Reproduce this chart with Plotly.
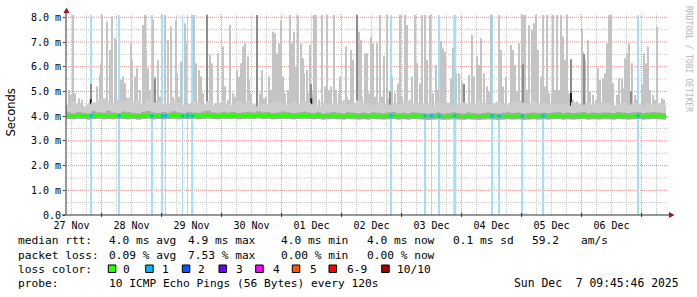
import plotly.graph_objects as go
from datetime import datetime, timedelta

# ---------------- data ----------------
START = datetime(2025, 11, 27, 9, 46)        # left edge of the graph
SPAN_H = 240.8                                # hours shown on the x axis

day_labels = ["27 Nov", "28 Nov", "29 Nov", "30 Nov", "01 Dec",
              "02 Dec", "03 Dec", "04 Dec", "05 Dec", "06 Dec"]
day_label_dates = ["2025-11-27 12:00", "2025-11-28 12:00", "2025-11-29 12:00",
                   "2025-11-30 12:00", "2025-12-01 12:00", "2025-12-02 12:00",
                   "2025-12-03 12:00", "2025-12-04 12:00", "2025-12-05 12:00",
                   "2025-12-06 12:00"]
y_tick_vals = [0, 1, 2, 3, 4, 5, 6, 7, 8]
y_tick_text = ["0.0", "1.0 m", "2.0 m", "3.0 m", "4.0 m", "5.0 m", "6.0 m", "7.0 m", "8.0 m"]

# regular 2-hour sample grid (hours after START)
grid_hours = [2 * i for i in range(121)]

median_ms = [
    4.01, 4.00, 4.02, 4.01, 4.00, 4.02, 4.03, 4.01, 4.00, 4.02, 4.01, 4.03,
    4.02, 4.01, 4.00, 4.02, 4.03, 4.01, 4.02, 4.00, 4.01, 4.03, 4.02, 4.01,
    4.02, 4.03, 4.01, 4.02, 4.04, 4.02, 4.01, 4.03, 4.02, 4.03, 4.01, 4.02,
    4.03, 4.02, 4.04, 4.02, 4.03, 4.01, 4.02, 4.03, 4.02, 4.01, 4.02, 4.03,
    4.02, 4.01, 4.02, 4.00, 4.01, 4.02, 4.01, 4.00, 4.02, 4.01, 4.00, 4.01,
    4.00, 4.02, 4.01, 4.00, 4.01, 4.02, 4.00, 4.01, 4.00, 4.02, 4.01, 4.00,
    3.99, 4.00, 4.01, 3.99, 4.00, 4.01, 4.00, 3.99, 4.01, 4.00, 3.99, 4.00,
    4.01, 4.00, 3.99, 4.00, 4.01, 4.00, 4.01, 3.99, 4.00, 4.01, 4.00, 4.01,
    4.00, 4.01, 4.02, 4.00, 4.01, 4.00, 4.01, 4.02, 4.00, 4.01, 4.00, 4.01,
    4.01, 4.00, 4.02, 4.01, 4.00, 4.01, 4.02, 4.00, 4.01, 4.02, 4.01, 4.00,
    4.01]

smoke_lo_ms = [
    3.88, 3.87, 3.89, 3.88, 3.86, 3.88, 3.89, 3.87, 3.88, 3.87, 3.89, 3.88,
    3.87, 3.88, 3.86, 3.88, 3.89, 3.87, 3.88, 3.87, 3.88, 3.89, 3.87, 3.88,
    3.88, 3.89, 3.87, 3.88, 3.90, 3.88, 3.87, 3.89, 3.88, 3.89, 3.87, 3.88,
    3.89, 3.88, 3.90, 3.88, 3.89, 3.87, 3.88, 3.89, 3.88, 3.87, 3.88, 3.89,
    3.88, 3.87, 3.88, 3.86, 3.87, 3.88, 3.87, 3.86, 3.88, 3.87, 3.86, 3.87,
    3.86, 3.88, 3.87, 3.86, 3.87, 3.88, 3.86, 3.87, 3.86, 3.88, 3.87, 3.86,
    3.85, 3.86, 3.87, 3.85, 3.86, 3.87, 3.86, 3.85, 3.87, 3.86, 3.85, 3.86,
    3.87, 3.86, 3.85, 3.86, 3.87, 3.86, 3.87, 3.85, 3.86, 3.87, 3.86, 3.87,
    3.86, 3.87, 3.88, 3.86, 3.87, 3.86, 3.87, 3.88, 3.86, 3.87, 3.86, 3.87,
    3.87, 3.86, 3.88, 3.87, 3.86, 3.87, 3.88, 3.86, 3.87, 3.88, 3.87, 3.86,
    3.87]

smoke_mid_ms = [
    4.16, 4.12, 4.18, 4.14, 4.12, 4.20, 4.16, 4.14, 4.22, 4.15, 4.13, 4.19,
    4.17, 4.14, 4.12, 4.18, 4.21, 4.15, 4.13, 4.17, 4.14, 4.20, 4.16, 4.13,
    4.18, 4.15, 4.14, 4.19, 4.22, 4.16, 4.14, 4.18, 4.15, 4.17, 4.13, 4.16,
    4.18, 4.15, 4.20, 4.16, 4.17, 4.13, 4.15, 4.19, 4.16, 4.13, 4.15, 4.18,
    4.15, 4.13, 4.16, 4.12, 4.14, 4.17, 4.14, 4.12, 4.16, 4.14, 4.12, 4.15,
    4.12, 4.16, 4.14, 4.12, 4.15, 4.17, 4.12, 4.14, 4.12, 4.16, 4.14, 4.12,
    4.11, 4.13, 4.15, 4.11, 4.13, 4.16, 4.13, 4.11, 4.15, 4.13, 4.11, 4.13,
    4.15, 4.13, 4.11, 4.14, 4.16, 4.13, 4.15, 4.11, 4.13, 4.15, 4.13, 4.15,
    4.13, 4.15, 4.17, 4.13, 4.15, 4.13, 4.15, 4.17, 4.13, 4.15, 4.13, 4.15,
    4.15, 4.13, 4.17, 4.15, 4.13, 4.15, 4.17, 4.13, 4.15, 4.17, 4.15, 4.13,
    4.14]

smoke_hi_ms = [
    4.45, 4.60, 4.52, 4.40, 4.48, 4.56, 4.65, 4.72, 4.60, 4.54, 4.68, 4.62,
    4.75, 4.58, 4.64, 4.50, 4.70, 4.56, 4.60, 4.48, 4.52, 4.66, 4.54, 4.46,
    4.50, 4.62, 4.56, 4.48, 4.60, 4.42, 4.54, 4.64, 4.50, 4.45, 4.58, 4.52,
    4.60, 4.48, 4.40, 4.52, 4.46, 4.56, 4.62, 4.50, 4.44, 4.58, 4.52, 4.60,
    4.54, 4.48, 4.42, 4.56, 4.50, 4.45, 4.52, 4.60, 4.48, 4.54, 4.64, 4.56,
    4.50, 4.44, 4.58, 4.52, 4.46, 4.54, 4.48, 4.56, 4.62, 4.50, 4.45, 4.52,
    4.48, 4.40, 4.52, 4.46, 4.54, 4.42, 4.50, 4.56, 4.48, 4.52, 4.60, 4.54,
    4.46, 4.52, 4.58, 4.50, 4.44, 4.56, 4.62, 4.54, 4.48, 4.60, 4.52, 4.56,
    4.50, 4.45, 4.52, 4.48, 4.42, 4.56, 4.50, 4.46, 4.54, 4.48, 4.52, 4.58,
    4.50, 4.44, 4.48, 4.54, 4.46, 4.52, 4.48, 4.42, 4.50, 4.46, 4.52, 4.45,
    4.45]

# light-grey smoke spikes: hour after START, top value (ms)
spike_hour = [
    1.1, 2.1, 2.8, 3.6, 5.2, 6.5, 12.5, 13.5, 13.9, 14.4, 15.2, 16.3, 17.5, 18.3,
    19.5, 20.0, 22.1, 22.9, 23.6, 25.9, 26.5, 27.6, 28.3, 29.6, 30.8, 31.5, 32.0,
    32.8, 33.5, 34.9, 35.7, 36.9, 37.6, 39.5, 40.8, 41.9, 42.8, 43.9, 44.5, 45.2,
    45.9, 47.5, 48.1,
    51.3, 52.0, 53.3, 54.0, 54.7, 57.6, 58.4, 59.7, 60.7, 62.7, 63.7, 64.7, 65.7,
    66.7, 67.7, 68.3, 69.3, 70.0, 70.9, 71.7, 72.7, 73.3, 74.0, 77.6, 78.3, 79.1,
    80.0, 81.1, 82.0, 82.9, 83.6, 84.3, 85.1, 86.0, 86.7, 87.7, 88.7, 89.6, 90.4,
    91.3, 92.0, 92.9, 94.0, 94.7, 95.3, 96.3, 96.9,
    97.5, 98.4, 99.1, 100.1, 101.2, 102.4, 103.5, 104.3, 105.1, 105.9, 107.2,
    108.0, 109.1, 109.7, 111.1, 111.9, 112.5, 113.2, 113.9, 114.8, 117.1, 117.9,
    118.5, 119.5, 120.3, 121.1, 122.1, 122.9, 123.7, 124.5, 125.5, 126.4, 127.2,
    128.3, 129.2, 130.5, 131.7, 132.8, 133.6, 134.5, 135.7, 136.5, 137.5, 138.4,
    139.5, 140.3, 141.5, 142.4, 143.5, 144.5, 145.5,
    146.9, 147.9, 148.8, 149.9, 150.7, 151.5, 152.9, 153.9, 154.7, 155.9, 157.3,
    158.3, 159.3, 160.3, 161.3, 162.4, 163.3, 164.3, 165.2, 166.1, 167.2, 168.3,
    169.3, 170.0, 171.6, 173.3, 174.0, 174.9, 176.0, 177.1, 178.0, 178.9, 179.6,
    180.5, 181.3, 182.3, 182.9, 183.6, 184.3, 185.3, 186.3, 187.3, 188.0, 188.7,
    189.9, 190.7, 191.6, 192.3, 193.3, 194.3,
    194.9, 195.6, 196.5, 197.3, 197.9, 198.9, 199.6, 200.3, 201.3, 202.9, 204.3,
    206.3, 206.9, 207.6, 208.7, 209.6, 210.7, 211.9, 212.9, 213.6, 214.7, 215.6,
    216.5, 217.3, 218.0, 218.9, 220.3, 221.3, 222.3, 222.9, 223.6, 224.5, 225.3,
    226.3, 227.6, 228.5, 230.3, 231.2, 232.0, 232.9, 233.6, 234.7, 235.6, 236.4,
    237.3, 238.3, 239.2]
spike_top = [
    5.06, 4.86, 8.2, 4.93, 4.72, 4.66, 5.2, 5.67, 6.14, 8.2, 4.39, 7.83, 6.68, 8.03,
    7.15, 7.09, 5.47, 5.6, 5.33, 6.95, 6.28, 5.6, 5.94, 5.06, 7.69, 8.2, 6.68,
    5.94, 5.06, 7.9, 5.6, 6.28, 4.79, 8.2, 7.09, 7.63, 4.79, 7.9, 5.74, 4.79,
    6.21, 7.76, 6.95,
    8.2, 6.14, 5.87, 5.6, 4.93, 6.48, 6.14, 4.52, 6.55, 6.82, 5.2, 4.66, 7.69,
    4.93, 4.79, 5.87, 5.6, 6.14, 6.82, 6.95, 6.41, 5.47, 4.93, 4.93, 5.87, 4.72,
    4.79, 5.6, 5.06, 7.42, 7.35, 6.55, 6.95, 7.9, 5.6, 4.93, 5.06, 8.2, 6.95,
    7.42, 6.0, 8.2, 6.95, 6.34, 5.74, 5.87, 4.93,
    6.88, 4.93, 8.2, 8.2, 4.66, 8.2, 5.2, 8.2, 5.06, 5.2, 8.2,
    5.06, 4.93, 5.6, 4.66, 6.82, 4.79, 4.66, 6.68, 6.28, 7.42, 7.09,
    4.79, 6.55, 6.55, 4.93, 7.22, 6.95, 4.79, 6.95, 8.2, 4.79, 6.41,
    8.2, 4.72, 5.6, 4.93, 5.33, 8.2, 4.79, 8.2, 7.69, 4.66, 5.6,
    8.2, 6.14, 5.33, 8.2, 8.2, 6.28, 8.2,
    4.93, 6.07, 5.06, 7.04, 6.75, 6.61, 4.39, 5.53, 6.77, 5.74, 5.74,
    5.4, 5.2, 4.39, 5.67, 7.29, 5.6, 6.41, 6.07, 7.15, 5.74, 5.2,
    5.0, 8.2, 4.52, 8.2, 6.68, 5.2, 5.6, 4.52, 6.88, 6.68, 6.07,
    5.0, 6.95, 8.2, 8.2, 8.2, 5.06, 7.69, 7.49, 7.76, 8.2, 6.68,
    5.6, 8.2, 5.2, 8.2, 4.93, 4.93,
    8.2, 5.06, 8.2, 5.06, 8.2, 7.22, 6.28, 8.2, 4.93, 4.66, 4.59,
    7.56, 6.61, 6.28, 7.09, 5.0, 4.86, 4.66, 5.94, 5.47, 5.53, 5.74,
    6.95, 8.2, 8.2, 5.33, 4.86, 5.53, 5.53, 5.13, 6.34, 6.55, 6.95,
    6.14, 4.86, 4.66, 5.26, 6.55, 6.14, 6.82, 5.06, 4.86, 4.66, 7.63,
    4.52, 4.72, 4.66]

# darker grey smoke columns
dark_hour = [9.9, 35.5, 56.3, 76.4, 98.1, 116.3, 129.7, 159.2, 182.9, 202.0, 207.2, 225.9]
dark_top = [5.3, 5.5, 8.2, 8.2, 5.3, 8.2, 5.0, 5.3, 6.1, 6.3, 6.5, 5.0]

# near-black columns around the median
black_hour = [9.9, 15.5, 35.5, 39.5, 58.0, 87.3, 98.1, 117.9, 129.7, 136.1,
              153.9, 159.2, 177.9, 182.9, 202.0, 207.2, 225.9, 238.9]
black_top = [4.68, 4.32, 4.52, 4.25, 4.39, 4.32, 4.72, 4.25, 4.45, 4.2,
             4.36, 4.52, 4.32, 4.18, 4.95, 4.45, 4.28, 4.1]

# packet-loss background columns (1/10 lost): hour after START, width in pixels
loss_hour = [10.1, 21.3, 34.4, 38.5, 39.8, 46.6, 48.6, 50.5, 130.1, 143.6,
             146.2, 149.3, 155.5, 170.3, 173.3, 182.5, 190.9, 228.9]
loss_px = [1, 1, 2, 1, 1, 1, 1, 2, 1, 2, 1, 1, 3, 1, 1, 1, 1, 1]

loss_labels = ["0", "1", "2", "3", "4", "5", "6-9", "10/10"]
loss_colors = ["#26ff00", "#00b8ff", "#0059ff", "#6a00ff", "#ff00ff", "#ff5500", "#ff0000", "#a00000"]

stats_rows = [
    ["median rtt:", "4.0 ms avg", "4.9 ms max", "4.0 ms min", "4.0 ms now", "0.1 ms sd", "59.2", "am/s"],
    ["packet loss:", "0.09 % avg", "7.53 % max", "0.00 % min", "0.00 % now"],
]
probe_text = "10 ICMP Echo Pings (56 Bytes) every 120s"
stamp_text = "Sun Dec  7 09:45:46 2025"

# ---------------- geometry ----------------
FIG_W, FIG_H = 697, 297
PL, PR, PT, PB = 66, 668, 15, 215
PW, PH = PR - PL, PB - PT
MS_PER_PX = SPAN_H * 3600 * 1000 / PW
Y_MAX = 8.0 * PH / (PB - 17.3)
FS = 11.2


def px(x):
    return (x - PL) / PW


def py(y):
    return (PB - y) / PH


def t(h):
    return START + timedelta(hours=h)


MONO = "DejaVu Sans Mono"
fig = go.Figure()

# loss background
fig.add_trace(go.Bar(x=[t(h) for h in loss_hour], y=[Y_MAX + 1] * len(loss_hour), base=0,
                     width=[w * MS_PER_PX for w in loss_px],
                     marker=dict(color="#a3e0f8", line=dict(width=0)), hoverinfo="skip"))

gx = [t(h) for h in grid_hours]
# light smoke band
fig.add_trace(go.Scatter(x=gx, y=smoke_lo_ms, mode="lines", line=dict(width=0, shape="hv"), hoverinfo="skip"))
fig.add_trace(go.Scatter(x=gx, y=smoke_hi_ms, mode="lines", line=dict(width=0, shape="hv"),
                         fill="tonexty", fillcolor="#cdcdcd", hoverinfo="skip"))
# light spikes
fig.add_trace(go.Bar(x=[t(h) for h in spike_hour], y=[v - 4.1 for v in spike_top], base=4.1,
                     width=MS_PER_PX * 1.0, marker=dict(color="#c4c4c4", line=dict(width=0)),
                     hoverinfo="skip"))
# dark band
fig.add_trace(go.Scatter(x=gx, y=smoke_lo_ms, mode="lines", line=dict(width=0, shape="hv"), hoverinfo="skip"))
fig.add_trace(go.Scatter(x=gx, y=smoke_mid_ms, mode="lines", line=dict(width=0, shape="hv"),
                         fill="tonexty", fillcolor="#a8a8a8", hoverinfo="skip"))
# dark spikes
fig.add_trace(go.Bar(x=[t(h) for h in dark_hour], y=[v - 4.1 for v in dark_top], base=4.1,
                     width=MS_PER_PX * 1.0, marker=dict(color="#8c8c8c", line=dict(width=0)),
                     hoverinfo="skip"))
# black spikes
fig.add_trace(go.Bar(x=[t(h) for h in black_hour], y=[v - 3.95 for v in black_top], base=3.95,
                     width=MS_PER_PX * 2.0, marker=dict(color="#1e1e1e", line=dict(width=0)),
                     hoverinfo="skip"))
# median line
fig.add_trace(go.Scatter(x=gx, y=median_ms, mode="lines",
                         line=dict(color="#26ff00", width=3, shape="hv"), hoverinfo="skip"))
# median coloured by loss where packets were lost
fig.add_trace(go.Scatter(x=[t(h) for h in loss_hour], y=[4.01] * len(loss_hour), mode="markers",
                         marker=dict(symbol="square", size=3, color="#00b8ff"), hoverinfo="skip"))

shapes = []
# grid
day0 = datetime(2025, 11, 27, 12, 0)
k = 0
while True:
    tt = day0 + timedelta(hours=6 * k)
    if tt > t(SPAN_H):
        break
    major = tt.hour == 0
    shapes.append(dict(type="line", xref="x", yref="paper", x0=tt, x1=tt, y0=0, y1=py(13),
                       line=dict(color="#e09090" if major else "#c4c4c4", width=1, dash="1px,1px"),
                       layer="below"))
    if major:
        shapes.append(dict(type="line", xref="x", yref="paper", x0=tt, x1=tt, y0=py(213), y1=py(217),
                           line=dict(color="#303030", width=1), layer="above"))
    k += 1
for i in range(1, 17):
    v = i * 0.5
    major = i % 2 == 0
    shapes.append(dict(type="line", xref="paper", yref="y", x0=0, x1=px(668), y0=v, y1=v,
                       line=dict(color="#e09090" if major else "#c4c4c4", width=1, dash="1px,1px"),
                       layer="below"))

# axes with arrows
shapes.append(dict(type="line", xref="paper", yref="paper", x0=px(66), x1=px(66), y0=py(215), y1=py(10),
                   line=dict(color="#303030", width=1), layer="above"))
shapes.append(dict(type="line", xref="paper", yref="paper", x0=px(62), x1=px(670), y0=py(215), y1=py(215),
                   line=dict(color="#303030", width=1), layer="above"))
shapes.append(dict(type="path", xref="paper", yref="paper",
                   path=f"M {px(66.5)} {py(7.5)} L {px(63.5)} {py(13)} L {px(69.5)} {py(13)} Z",
                   fillcolor="#961c1c", line=dict(width=0), layer="above"))
shapes.append(dict(type="path", xref="paper", yref="paper",
                   path=f"M {px(674.5)} {py(215)} L {px(669)} {py(212)} L {px(669)} {py(218)} Z",
                   fillcolor="#961c1c", line=dict(width=0), layer="above"))

annotations = []
row_y = [241, 255, 269, 283]
col_x = [16, 107, 186, 279, 365, 451.5, 530, 579]
for r, row in enumerate(stats_rows):
    for c, txt in enumerate(row):
        annotations.append(dict(xref="paper", yref="paper", x=px(col_x[c]), y=py(row_y[r]),
                                xanchor="left", yanchor="middle", text=txt.replace(" ", "&nbsp;"),
                                showarrow=False, font=dict(family=MONO, size=FS, color="#000")))
annotations.append(dict(xref="paper", yref="paper", x=px(16), y=py(row_y[2]), xanchor="left",
                        yanchor="middle", text="loss&nbsp;color:", showarrow=False,
                        font=dict(family=MONO, size=FS, color="#000")))
box_x = [108.3, 145.7, 182.3, 219, 255.7, 292.3, 329, 381.7]
lab_x = [121, 159.5, 196, 234.5, 271, 308, 344.5, 394.5]
for bx, lx, lab, col in zip(box_x, lab_x, loss_labels, loss_colors):
    shapes.append(dict(type="rect", xref="paper", yref="paper", x0=px(bx), x1=px(bx + 7.5),
                       y0=py(272.5), y1=py(265), fillcolor=col, line=dict(color="#000", width=1)))
    annotations.append(dict(xref="paper", yref="paper", x=px(lx), y=py(row_y[2]), xanchor="left",
                            yanchor="middle", text=lab, showarrow=False,
                            font=dict(family=MONO, size=FS, color="#000")))
annotations.append(dict(xref="paper", yref="paper", x=px(16), y=py(row_y[3]), xanchor="left",
                        yanchor="middle", text="probe:", showarrow=False,
                        font=dict(family=MONO, size=FS, color="#000")))
annotations.append(dict(xref="paper", yref="paper", x=px(107), y=py(row_y[3]), xanchor="left",
                        yanchor="middle", text=probe_text.replace(" ", "&nbsp;"), showarrow=False,
                        font=dict(family=MONO, size=FS, color="#000")))
annotations.append(dict(xref="paper", yref="paper", x=px(681), y=py(row_y[3]), xanchor="right",
                        yanchor="middle", text=stamp_text.replace(" ", "&nbsp;"), showarrow=False,
                        font=dict(family=MONO, size=11.4, color="#000")))
annotations.append(dict(xref="paper", yref="paper", x=px(10.5), y=py(113), xanchor="center",
                        yanchor="middle", text="Seconds", textangle=-90, showarrow=False,
                        font=dict(family="DejaVu Sans", size=11.5, color="#000")))
annotations.append(dict(xref="paper", yref="paper", x=px(688.5), y=py(58.5), xanchor="center",
                        yanchor="middle", text="RRDTOOL&nbsp;/&nbsp;TOBI&nbsp;OETIKER", textangle=90,
                        showarrow=False, font=dict(family=MONO, size=8, color="#b4b4b4")))

fig.update_layout(
    width=FIG_W, height=FIG_H, autosize=False,
    margin=dict(l=PL, r=FIG_W - PR, t=PT, b=FIG_H - PB, pad=0),
    paper_bgcolor="#ffffff", plot_bgcolor="#ffffff",
    barmode="overlay", showlegend=False,
    shapes=shapes, annotations=annotations,
    xaxis=dict(type="date", range=[t(0), t(SPAN_H)], tickmode="array",
               tickvals=day_label_dates, ticktext=day_labels, showgrid=False, zeroline=False,
               showline=False, ticks="", ticklabelstandoff=3,
               tickfont=dict(family=MONO, size=10, color="#000"), fixedrange=True),
    yaxis=dict(range=[0, Y_MAX], tickmode="array", tickvals=y_tick_vals, ticktext=y_tick_text,
               showgrid=False, zeroline=False, showline=False, ticks="outside", ticklen=2,
               tickcolor="#303030", tickfont=dict(family=MONO, size=10, color="#000"),
               fixedrange=True),
)

fig.write_html("out.html")
